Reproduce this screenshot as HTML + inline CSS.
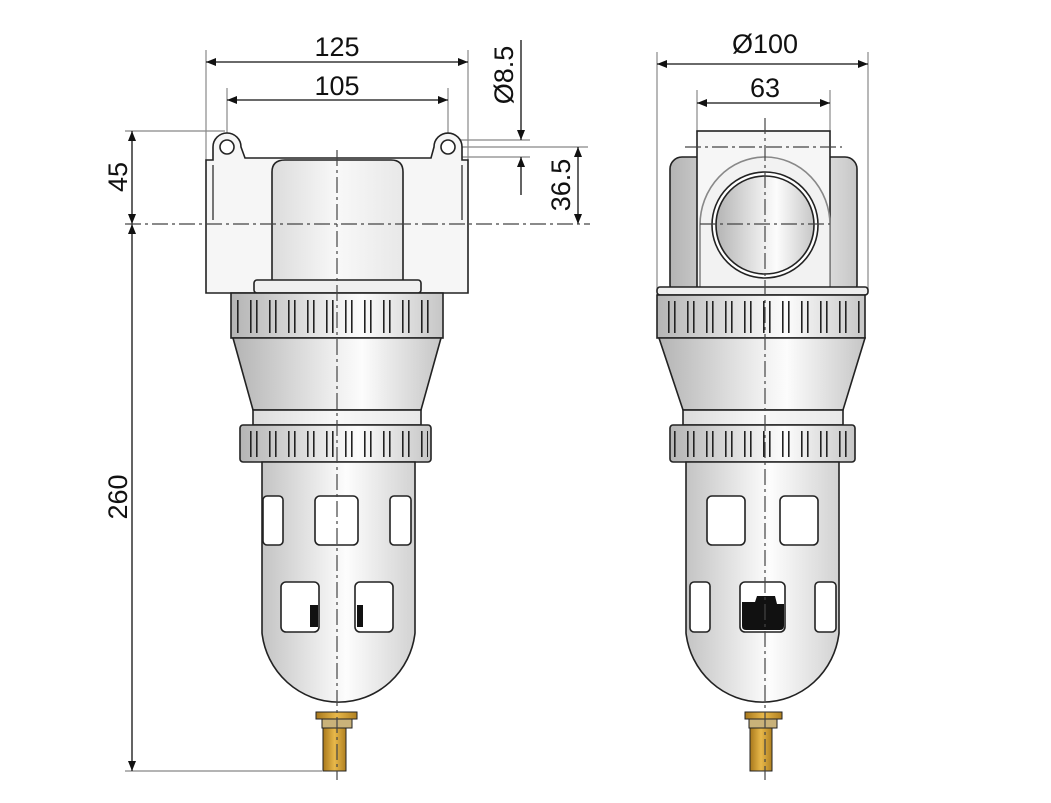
<!DOCTYPE html>
<html><head><meta charset="utf-8"><style>
html,body{margin:0;padding:0;background:#fff;}
svg{display:block;}
text{font-family:"Liberation Sans",sans-serif;font-size:27px;fill:#111;}
</style></head><body>
<svg width="1051" height="803" viewBox="0 0 1051 803" xmlns="http://www.w3.org/2000/svg">
<defs>
<linearGradient id="g" x1="0" x2="1" y1="0" y2="0">
<stop offset="0" stop-color="#b4b4b4"/><stop offset="0.5" stop-color="#f0f0f0"/><stop offset="0.62" stop-color="#fcfcfc"/><stop offset="1" stop-color="#c6c6c6"/>
</linearGradient>
<linearGradient id="gb" x1="0" x2="1" y1="0" y2="0">
<stop offset="0" stop-color="#c4c4c4"/><stop offset="0.55" stop-color="#fdfdfd"/><stop offset="1" stop-color="#d2d2d2"/>
</linearGradient>
<linearGradient id="gl" x1="0" x2="1"><stop offset="0" stop-color="#dcdcdc"/><stop offset="0.5" stop-color="#f8f8f8"/><stop offset="1" stop-color="#e8e8e8"/></linearGradient>
<linearGradient id="gold" x1="0" x2="1"><stop offset="0" stop-color="#a8781c"/><stop offset="0.5" stop-color="#e8b84a"/><stop offset="1" stop-color="#b08020"/></linearGradient>
<pattern id="rib" width="19" height="50" patternUnits="userSpaceOnUse">
<rect x="3" y="0" width="1.6" height="50" fill="#222"/><rect x="9" y="0" width="1.6" height="50" fill="#222"/>
</pattern>
<marker id="a" viewBox="0 0 10 10" refX="10" refY="5" markerWidth="14" markerHeight="10" orient="auto-start-reverse" markerUnits="userSpaceOnUse"><path d="M0,1 L10,5 L0,9z" fill="#111"/></marker>
</defs>

<g stroke="#888" stroke-width="1.2" fill="none">
<line x1="206" y1="50" x2="206" y2="160"/><line x1="468" y1="50" x2="468" y2="160"/>
<line x1="227" y1="88" x2="227" y2="140"/><line x1="448" y1="88" x2="448" y2="140"/>
<line x1="125" y1="131" x2="225" y2="131"/>
<line x1="125" y1="771" x2="322" y2="771"/>
<line x1="455" y1="140" x2="530" y2="140"/><line x1="455" y1="147" x2="588" y2="147"/><line x1="455" y1="157" x2="530" y2="157"/>
<line x1="657" y1="52" x2="657" y2="290"/><line x1="868" y1="52" x2="868" y2="290"/>
<line x1="697" y1="90" x2="697" y2="132"/><line x1="830" y1="90" x2="830" y2="132"/>
</g>
<g stroke="#111" stroke-width="1.3">
<line x1="206" y1="62" x2="468" y2="62" marker-start="url(#a)" marker-end="url(#a)"/>
<line x1="227" y1="100" x2="448" y2="100" marker-start="url(#a)" marker-end="url(#a)"/>
<line x1="132" y1="131" x2="132" y2="224" marker-start="url(#a)" marker-end="url(#a)"/>
<line x1="132" y1="224" x2="132" y2="771" marker-start="url(#a)" marker-end="url(#a)"/>
<line x1="521" y1="40" x2="521" y2="140" marker-end="url(#a)"/>
<line x1="521" y1="195" x2="521" y2="157" marker-end="url(#a)"/>
<line x1="578" y1="147" x2="578" y2="224" marker-start="url(#a)" marker-end="url(#a)"/>
<line x1="657" y1="64" x2="868" y2="64" marker-start="url(#a)" marker-end="url(#a)"/>
<line x1="697" y1="103" x2="830" y2="103" marker-start="url(#a)" marker-end="url(#a)"/>
</g>
<text x="337" y="56" text-anchor="middle">125</text>
<text x="337" y="95" text-anchor="middle">105</text>
<text transform="translate(127,177) rotate(-90)" text-anchor="middle">45</text>
<text transform="translate(127,497) rotate(-90)" text-anchor="middle">260</text>
<text transform="translate(513,75) rotate(-90)" text-anchor="middle">Ø8.5</text>
<text transform="translate(570,185) rotate(-90)" text-anchor="middle">36.5</text>
<text x="765" y="53" text-anchor="middle">Ø100</text>
<text x="765" y="97" text-anchor="middle">63</text>

<!-- LEFT VIEW -->
<g stroke="#222" stroke-width="1.6">
<path d="M206,160 L213,160 L213,147 A14,14 0 0 1 241,147 L245,158 L431,158 L434,147 A14,14 0 0 1 462,147 L462,160 L468,160 L468,293 L206,293 Z" fill="#f6f6f6"/>
<circle cx="227" cy="147" r="7" fill="#fff"/><circle cx="448" cy="147" r="7" fill="#fff"/>
<line x1="213" y1="165" x2="213" y2="220" stroke="#555"/><line x1="462" y1="165" x2="462" y2="220" stroke="#555"/>
<path d="M272,283 L272,172 Q272,160 285,160 L391,160 Q403,160 403,172 L403,283Z" fill="url(#gl)"/>
<rect x="254" y="280" width="167" height="13" rx="3" fill="#f0f0f0"/>
<rect x="231" y="293" width="212" height="45" fill="url(#g)"/>
<rect x="234" y="300" width="206" height="33" fill="url(#rib)" stroke="none"/>
<path d="M233,338 L441,338 L421,410 L253,410Z" fill="url(#g)"/>
<rect x="253" y="410" width="168" height="15" fill="url(#gl)"/>
<rect x="240" y="425" width="191" height="37" rx="3" fill="url(#g)"/>
<rect x="243" y="431" width="185" height="26" fill="url(#rib)" stroke="none"/>
<path d="M262,462 L415,462 L415,633 A77,78 0 0 1 262,633Z" fill="url(#gb)"/>
<g fill="#fff">
<rect x="263" y="496" width="20" height="49" rx="4"/><rect x="315" y="496" width="43" height="49" rx="5"/><rect x="390" y="496" width="21" height="49" rx="4"/>
<rect x="281" y="582" width="38" height="50" rx="5"/><rect x="355" y="582" width="38" height="50" rx="5"/>
</g>
<rect x="316" y="712" width="41" height="7" fill="url(#gold)" stroke-width="1"/>
<rect x="322" y="719" width="30" height="9" fill="#c9b27a" stroke-width="1"/>
<rect x="323" y="728" width="23" height="43" fill="url(#gold)" stroke-width="1"/>
</g>
<rect x="310" y="605" width="8" height="22" fill="#111"/><rect x="357" y="605" width="6" height="22" fill="#111"/>

<!-- RIGHT VIEW -->
<g stroke="#222" stroke-width="1.6">
<rect x="670" y="157" width="187" height="140" rx="12" fill="url(#g)"/>
<rect x="697" y="131" width="133" height="162" fill="#f6f6f6"/>
<path d="M700,225 A65,68 0 0 1 830,225 L830,290 L700,290Z" fill="#f2f2f2" stroke="#888"/>
<circle cx="765" cy="225" r="53" fill="#fff"/>
<circle cx="765" cy="225" r="49" fill="url(#g)"/>
<rect x="657" y="287" width="211" height="8" rx="3" fill="#eee"/>
<rect x="657" y="295" width="208" height="43" fill="url(#g)"/>
<rect x="660" y="301" width="202" height="32" fill="url(#rib)" stroke="none"/>
<path d="M659,338 L865,338 L843,410 L683,410Z" fill="url(#g)"/>
<rect x="683" y="410" width="160" height="15" fill="url(#gl)"/>
<rect x="670" y="425" width="185" height="37" rx="3" fill="url(#g)"/>
<rect x="673" y="431" width="179" height="26" fill="url(#rib)" stroke="none"/>
<path d="M686,462 L839,462 L839,633 A77,78 0 0 1 686,633Z" fill="url(#gb)"/>
<g fill="#fff">
<rect x="707" y="496" width="38" height="49" rx="5"/><rect x="780" y="496" width="38" height="49" rx="5"/>
<rect x="690" y="582" width="20" height="50" rx="4"/><rect x="740" y="582" width="45" height="50" rx="5"/><rect x="815" y="582" width="21" height="50" rx="4"/>
</g>
<rect x="745" y="712" width="37" height="7" fill="url(#gold)" stroke-width="1"/>
<rect x="749" y="719" width="28" height="9" fill="#c9b27a" stroke-width="1"/>
<rect x="750" y="728" width="22" height="43" fill="url(#gold)" stroke-width="1"/>
</g>
<path d="M742,602 L755,602 L757,596 L775,596 L777,604 L784,604 L784,626 Q784,630 780,630 L746,630 Q742,630 742,626Z" fill="#111"/>

<g stroke="#444" stroke-width="1.2" stroke-dasharray="16,4,3,4" fill="none">
<line x1="337" y1="150" x2="337" y2="780"/>
<line x1="125" y1="224" x2="590" y2="224"/>
<line x1="765" y1="118" x2="765" y2="780"/>
<line x1="685" y1="147" x2="842" y2="147"/>
<line x1="700" y1="224" x2="830" y2="224"/>
</g>
</svg>
</body></html>
